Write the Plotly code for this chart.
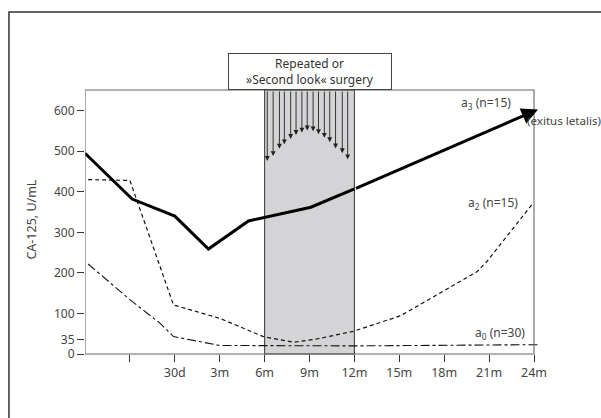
import plotly.graph_objects as go

# ---- data ----
tick_positions = [1, 2, 3, 4, 5, 6, 7, 8, 9, 10]
tick_labels = ["", "30d", "3m", "6m", "9m", "12m", "15m", "18m", "21m", "24m"]
y_ticks = [0, 35, 100, 200, 300, 400, 500, 600]

a3_x = [0, 1.05, 2.0, 2.75, 3.64, 5.03, 6.0, 10.09]
a3_y = [495, 382, 340, 259, 328, 362, 407, 603]

a2_x = [0.07, 1.0, 1.97, 3.0, 3.97, 4.64, 5.16, 5.98, 7.02, 7.91, 8.73, 8.95, 9.4, 9.95]
a2_y = [430, 428, 121, 88, 43, 29, 37, 56, 94, 150, 203, 228, 290, 368]

a0_x = [0.07, 1.0, 1.67, 1.97, 3.0, 6.0, 10.14]
a0_y = [222, 134, 76, 43, 21, 20, 23]

surgery_x = [4.06, 4.19, 4.33, 4.44, 4.58, 4.70, 4.83, 4.95, 5.08, 5.20, 5.33, 5.45, 5.58, 5.73, 5.85]
surgery_y = [476, 488, 506, 517, 530, 540, 546, 551, 549, 542, 533, 522, 507, 495, 480]
surgery_window = [4, 6]

Y_MAX = 651
FONT = "Noto Sans"
TXT = "#444444"

fig = go.Figure()

fig.add_trace(go.Scatter(x=a0_x, y=a0_y, mode="lines",
                         line=dict(color="#111111", width=1.1, dash="dashdot")))
fig.add_trace(go.Scatter(x=a2_x, y=a2_y, mode="lines",
                         line=dict(color="#111111", width=1.2, dash="4px,3px")))
fig.add_trace(go.Scatter(x=a3_x[:-1], y=a3_y[:-1], mode="lines",
                         line=dict(color="#000000", width=3)))

shapes = [
    # shaded surgery window
    dict(type="rect", xref="x", yref="paper", x0=surgery_window[0], x1=surgery_window[1],
         y0=0, y1=1, fillcolor="#d4d4d6", line=dict(color="#444444", width=1.1), layer="below"),
    # plot frame
    dict(type="rect", xref="x", yref="paper", x0=0, x1=10, y0=0, y1=1,
         line=dict(color="#666666", width=1.1), layer="above"),
    # outer frame (only top and left are visible)
    dict(type="rect", xref="paper", yref="paper", x0=-0.166, x1=1.4, y0=-0.5, y1=1.2955,
         line=dict(color="#333333", width=1.5), layer="below"),
]

annotations = []
# arrows in surgery window
for xv, yv in zip(surgery_x, surgery_y):
    annotations.append(dict(x=xv, y=yv, ax=xv, ay=Y_MAX, xref="x", yref="y",
                            axref="x", ayref="y", text="", showarrow=True,
                            arrowhead=2, arrowsize=1.1, arrowwidth=0.9,
                            arrowcolor="#222222"))
# arrowhead for a3
annotations.append(dict(x=a3_x[-1], y=a3_y[-1], ax=a3_x[-2], ay=a3_y[-2],
                        xref="x", yref="y", axref="x", ayref="y", text="",
                        showarrow=True, arrowhead=2, arrowsize=1.1, arrowwidth=3,
                        arrowcolor="#000000"))
# surgery box
annotations.append(dict(xref="paper", yref="paper", x=0.4916, y=1.0694,
                        xanchor="center", yanchor="middle",
                        text="Repeated or<br>»Second look« surgery", showarrow=False,
                        width=160, height=33, borderpad=1, bordercolor="#444444",
                        borderwidth=1, bgcolor="white",
                        font=dict(family=FONT, size=12, color="#333333")))
# labels
lbl_font = dict(family=FONT, size=12, color=TXT)
annotations += [
    dict(x=9.54, y=620, xref="x", yref="y", text="a<sub>3</sub> (n=15)", showarrow=False,
         xanchor="right", font=lbl_font),
    dict(x=9.80, y=577, xref="x", yref="y", text="(exitus letalis)", showarrow=False,
         xanchor="left", font=dict(family=FONT, size=11.6, color=TXT)),
    dict(x=9.69, y=373, xref="x", yref="y", text="a<sub>2</sub> (n=15)", showarrow=False,
         xanchor="right", font=lbl_font),
    dict(x=9.84, y=52, xref="x", yref="y", text="a<sub>0</sub> (n=30)", showarrow=False,
         xanchor="right", font=lbl_font),
    dict(x=-0.1164, y=0.508, xref="paper", yref="paper", text="CA-125, U/mL",
         xanchor="center", yanchor="middle",
         textangle=-90, showarrow=False, font=dict(family=FONT, size=12.5, color=TXT)),
]

fig.update_layout(
    width=601, height=418,
    margin=dict(l=85, r=58, t=90, b=64),
    paper_bgcolor="white", plot_bgcolor="white",
    showlegend=False,
    shapes=shapes, annotations=annotations,
    xaxis=dict(range=[0, 10.2], tickvals=tick_positions, ticktext=tick_labels,
               showline=False, showgrid=False, zeroline=False,
               ticks="outside", ticklen=7, tickcolor="#333333", tickwidth=1,
               tickfont=dict(family=FONT, size=12.5, color=TXT)),
    yaxis=dict(range=[0, Y_MAX], tickvals=y_ticks, ticktext=[str(v) for v in y_ticks],
               showline=False, showgrid=False, zeroline=False,
               ticks="outside", ticklen=7, tickcolor="#333333", tickwidth=1,
               tickfont=dict(family=FONT, size=12, color=TXT)),
)

fig.write_html("out.html", config={"displayModeBar": False},
               post_script="document.body.style.margin='0';document.body.style.overflow='hidden';")
